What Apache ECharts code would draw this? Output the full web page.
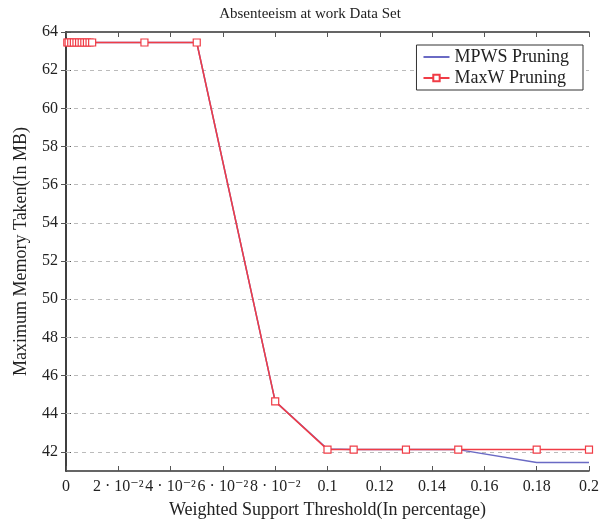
<!DOCTYPE html>
<html><head><meta charset="utf-8">
<script src="https://cdn.jsdelivr.net/npm/echarts@6/dist/echarts.min.js"></script>
<style>html,body{margin:0;padding:0;background:#fff}#c{width:611px;height:524px}</style>
</head><body><div id="c"></div>
<script>
const xValues = [0.0005,0.001,0.002,0.003,0.004,0.005,0.006,0.007,0.008,0.009,0.01,0.03,0.05,0.08,0.1,0.11,0.13,0.15,0.18,0.2];
const mpws   = [63.45,63.45,63.45,63.45,63.45,63.45,63.45,63.45,63.45,63.45,63.45,63.45,63.45,44.65,42.15,42.12,42.12,42.12,41.44,41.44];
const maxw   = [63.45,63.45,63.45,63.45,63.45,63.45,63.45,63.45,63.45,63.45,63.45,63.45,63.45,44.65,42.12,42.12,42.12,42.12,42.12,42.12];
const xTickLabels = {"0":"0","0.02":"2 · 10⁻²","0.04":"4 · 10⁻²","0.06":"6 · 10⁻²","0.08":"8 · 10⁻²","0.1":"0.1","0.12":"0.12","0.14":"0.14","0.16":"0.16","0.18":"0.18","0.2":"0.2"};
const yTicks = [42,44,46,48,50,52,54,56,58,60,62,64];

const font = "'Liberation Serif', 'DejaVu Serif', serif";
const chart = echarts.init(document.getElementById('c'));
const pair = (xs, ys) => xs.map((x, i) => [x, ys[i]]);
const axisLine = {show: true, lineStyle: {color: '#333', width: 1.5}};
const tick = {show: true, inside: true, length: 5, lineStyle: {color: '#555'}};
const yTick = Object.assign({}, tick, {customValues: yTicks});
chart.setOption({
  animation: false,
  title: {text: 'Absenteeism at work Data Set', left: 305, top: 2, textAlign: 'center',
    textStyle: {fontFamily: font, fontSize: 15, fontWeight: 'normal', color: '#222'}},
  grid: {left: 66, right: 22, top: 32, bottom: 50},
  legend: {orient: 'vertical', right: 28, top: 45, padding: [3, 14, 3, 6], itemGap: 3,
    itemWidth: 26, itemHeight: 8, borderColor: '#333', borderWidth: 1, backgroundColor: '#fff',
    textStyle: {fontFamily: font, fontSize: 18, color: '#222'},
    data: [{name: 'MPWS Pruning', itemStyle: {opacity: 0}}, 'MaxW Pruning']},
  xAxis: [{type: 'value', min: 0, max: 0.2, interval: 0.02,
    name: 'Weighted Support Threshold(In percentage)', nameLocation: 'middle', nameGap: 30,
    nameTextStyle: {fontFamily: font, fontSize: 18, color: '#222'},
    axisLine, axisTick: tick, splitLine: {show: false},
    axisLabel: {fontFamily: font, fontSize: 16, color: '#222', margin: 8,
      formatter: v => xTickLabels[String(+v.toFixed(2))] ?? ''}},
    {type: 'value', min: 0, max: 0.2, interval: 0.02, position: 'top',
    axisLine, axisTick: tick, axisLabel: {show: false}, splitLine: {show: false}}],
  yAxis: [{type: 'value', min: 41, max: 64, interval: 2,
    name: 'Maximum Memory Taken(In MB)', nameLocation: 'middle', nameGap: 36,
    nameTextStyle: {fontFamily: font, fontSize: 18, color: '#222'},
    axisLine, axisTick: yTick, splitLine: {show: false},
    axisLabel: {fontFamily: font, fontSize: 16, color: '#222', margin: 8, customValues: yTicks}},
    {type: 'value', min: 41, max: 64, interval: 2, position: 'right',
    axisLine, axisTick: yTick, axisLabel: {show: false}, splitLine: {show: false}}],
  series: [
    {name: 'MPWS Pruning', type: 'line', data: pair(xValues, mpws), symbol: 'none', z: 3,
      lineStyle: {color: '#6a6ac4', width: 1.5}, itemStyle: {color: '#6a6ac4'},
      markLine: {silent: true, symbol: 'none', label: {show: false}, z: 1,
        lineStyle: {type: [4, 4], color: '#bbb', width: 1},
        data: yTicks.filter(v => v < 64).map(v => ({yAxis: v}))}},
    {name: 'MaxW Pruning', type: 'line', data: pair(xValues, maxw), symbol: 'rect', symbolSize: 7, z: 4,
      lineStyle: {color: '#f03c46', width: 1.5},
      itemStyle: {color: '#fff', borderColor: '#f03c46', borderWidth: 1.2}}
  ]
});
</script></body></html>
